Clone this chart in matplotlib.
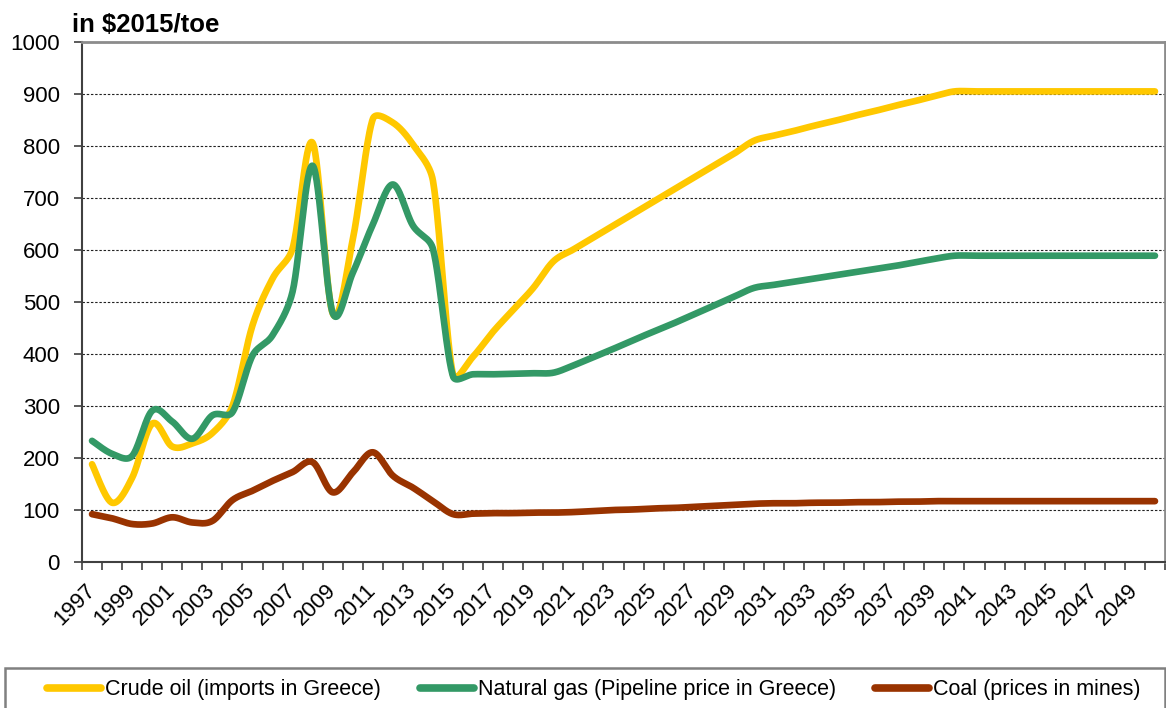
import numpy as np
import matplotlib
matplotlib.use("Agg")
import matplotlib.pyplot as plt
from matplotlib.lines import Line2D
from matplotlib.patches import Rectangle

plt.rcParams['font.family'] = ['Liberation Sans', 'DejaVu Sans']

years = list(range(1997, 2051))

crude_oil = [188, 114, 162, 266, 222, 228, 248, 300, 455, 545,
             603, 806, 478, 620, 852, 845, 803, 733, 360, 395,
             443, 485, 527, 578, 601, 624, 647, 670, 693, 716,
             739, 762, 785, 810, 820, 829, 839, 848, 858, 867,
             877, 886, 896, 905, 905, 905, 905, 905, 905, 905,
             905, 905, 905, 905]

natural_gas = [233, 208, 204, 291, 270, 237, 282, 288, 397, 436,
               520, 762, 479, 556, 649, 726, 647, 602, 357, 361,
               361, 362, 363, 364, 378, 394, 410, 427, 443, 459,
               476, 493, 510, 527, 533, 539, 545, 551, 557, 563,
               569, 576, 583, 589, 589, 589, 589, 589, 589, 589,
               589, 589, 589, 589]

coal = [92, 84, 73, 74, 86, 76, 79, 119, 137, 156,
        173, 192, 134, 172, 211, 166, 143, 117, 92, 93,
        94, 94, 95, 95, 96, 98, 100, 101, 103, 104,
        106, 108, 110, 112, 113, 113, 114, 114, 115, 115,
        116, 116, 117, 117, 117, 117, 117, 117, 117, 117,
        117, 117, 117, 117]

series_names = ["Crude oil (imports in Greece)",
                "Natural gas (Pipeline price in Greece)",
                "Coal (prices in mines)"]
series_colors = ["#FFC800", "#339966", "#993300"]
y_ticks = list(range(0, 1001, 100))
unit_label = "in $2015/toe"

# display scale used for smoothing (pixels per data unit)
PX_PER_X = 20.06
PX_PER_Y = 0.52


def smooth(xs, ys, steps=30, f=1 / 6, k=0.4):
    """Bezier smoothing through every data point; tangent arms are computed
    in display space and capped relative to the adjacent segment length."""
    P = np.column_stack([np.asarray(xs, float) * PX_PER_X,
                         np.asarray(ys, float) * PX_PER_Y])
    n = len(P)
    out = []
    for i in range(n - 1):
        p0 = P[max(i - 1, 0)]
        p1 = P[i]
        p2 = P[i + 1]
        p3 = P[min(i + 2, n - 1)]
        seg = np.linalg.norm(p2 - p1)
        a1 = (p2 - p0) * f
        a2 = (p3 - p1) * f
        for a in (a1, a2):
            L = np.linalg.norm(a)
            if L > k * seg and L > 0:
                a *= k * seg / L
        c1 = p1 + a1
        c2 = p2 - a2
        t = np.linspace(0, 1, steps, endpoint=(i == n - 2))[:, None]
        pts = ((1 - t) ** 3) * p1 + 3 * ((1 - t) ** 2) * t * c1 \
            + 3 * (1 - t) * t ** 2 * c2 + t ** 3 * p2
        out.append(pts)
    out = np.vstack(out)
    return out[:, 0] / PX_PER_X, out[:, 1] / PX_PER_Y


fig = plt.figure(figsize=(11.66, 7.08), dpi=100)
ax = fig.add_axes([82 / 1166, 1 - 562 / 708, (1165 - 82) / 1166, (562 - 42) / 708])

x = np.arange(len(years))
for vals, col in zip([crude_oil, natural_gas, coal], series_colors):
    sx, sy = smooth(x, vals)
    ax.plot(sx, sy, color=col, lw=4.8, solid_capstyle='round',
            solid_joinstyle='round', zorder=3)

ax.set_xlim(-0.5, len(years) - 0.5)
ax.set_ylim(0, 1000)

# y axis
ax.set_yticks(y_ticks)
ax.set_yticklabels([str(v) for v in y_ticks])
ax.tick_params(axis='y', which='major', direction='out', length=6, width=1.2,
               color='#404040', labelsize=16, pad=10)
ax.yaxis.grid(True, color='#222222', lw=0.8, linestyle=(0, (2.2, 1.6)))
ax.set_axisbelow(True)

# x axis: tick marks on category boundaries, labels on every other category
ax.set_xticks(np.arange(-0.5, len(years)), minor=False)
ax.set_xticklabels([])
ax.set_xticks(x[::2], minor=True)
ax.set_xticklabels([str(y) for y in years[::2]], minor=True, rotation=45,
                   ha='right', va='center', rotation_mode='anchor')
ax.tick_params(axis='x', which='major', direction='out', length=6, width=1.2,
               color='#404040')
ax.tick_params(axis='x', which='minor', length=0, labelsize=16, pad=18)

for side in ('left', 'bottom'):
    ax.spines[side].set_color('#404040')
    ax.spines[side].set_linewidth(1.5)
for side in ('top', 'right'):
    ax.spines[side].set_color('#8c8c8c')
    ax.spines[side].set_linewidth(2)

fig.text(72 / 1166, 1 - 32 / 708, unit_label, fontsize=18.5, fontweight='bold',
         ha='left', va='baseline')

# legend
handles = [Line2D([], [], color=c, lw=5.5, solid_capstyle='round') for c in series_colors]
fig.legend(handles, series_names, loc='center', ncol=3, frameon=False,
           bbox_to_anchor=(594 / 1166, 1 - 690 / 708), fontsize=15.5,
           handlelength=2.5, handletextpad=0.2, columnspacing=1.8)
fig.patches.append(Rectangle((5 / 1166, -0.05), 1160 / 1166, 0.05 + (708 - 668) / 708,
                             transform=fig.transFigure, fill=False,
                             edgecolor='#808080', lw=1.8))

fig.savefig("out.png", dpi=100)
